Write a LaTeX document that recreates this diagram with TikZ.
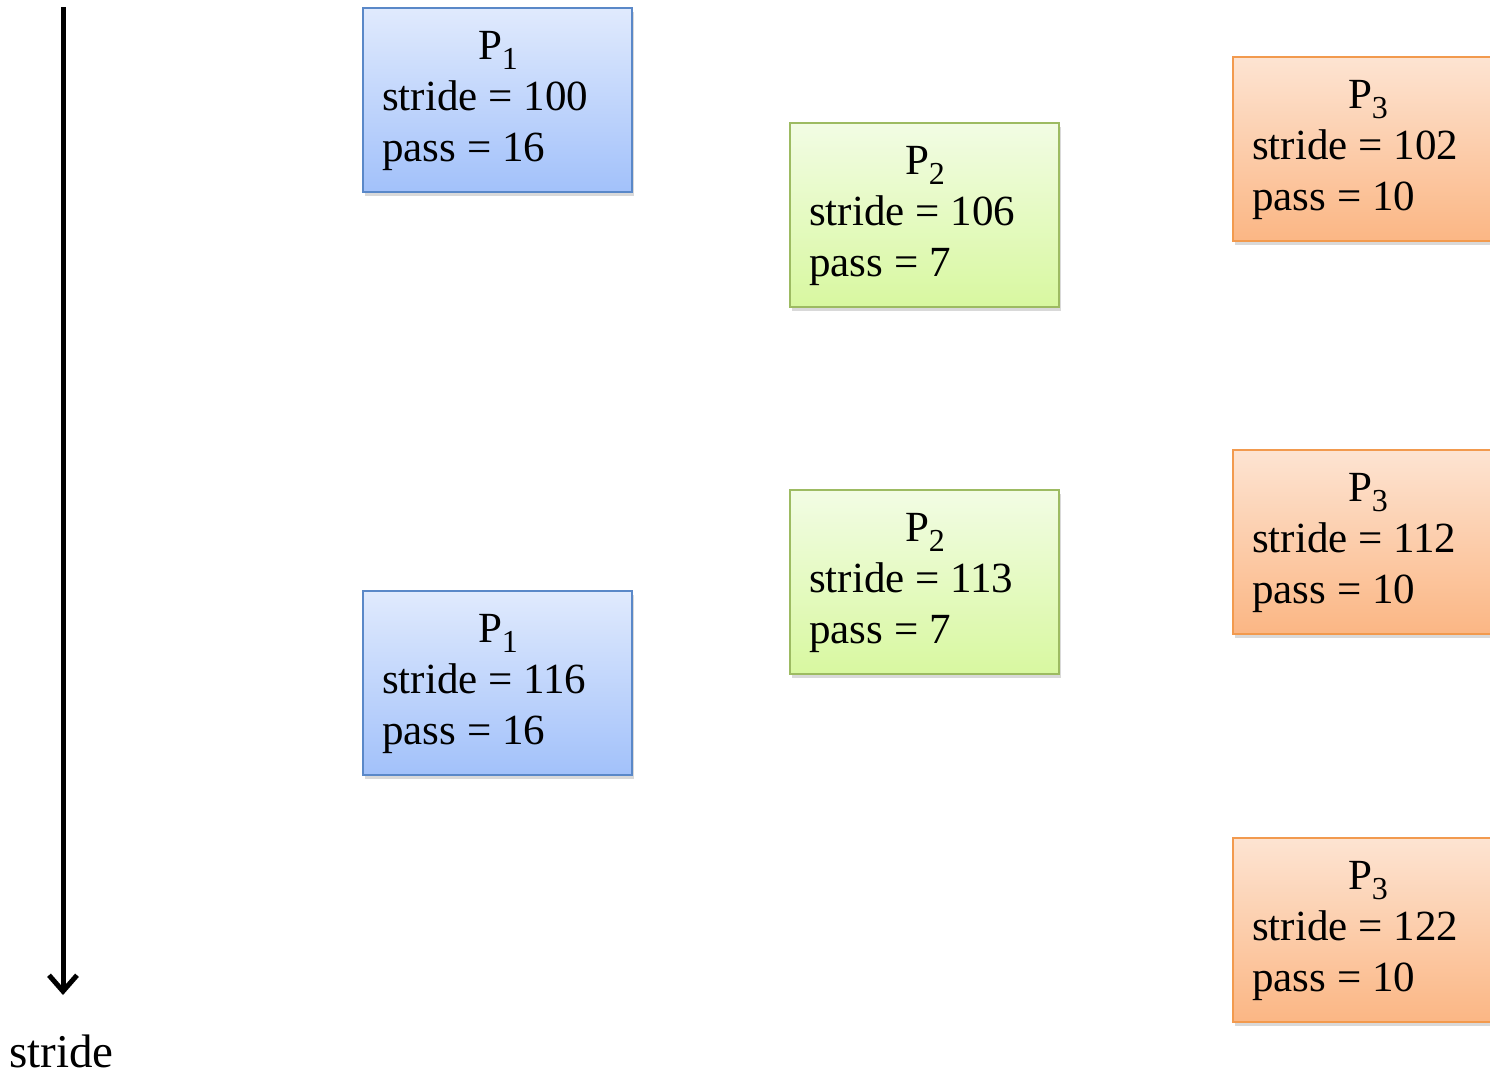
\documentclass[tikz,border=0pt]{standalone}
\usepackage{fontspec}
\setmainfont{Liberation Serif}
\usetikzlibrary{arrows.meta,shadows,calc}

\definecolor{blueTop}{HTML}{E0EAFD}
\definecolor{blueBot}{HTML}{A2C1FA}
\definecolor{blueLine}{HTML}{5A88C8}
\definecolor{greenTop}{HTML}{F2FCE4}
\definecolor{greenBot}{HTML}{D8F8A0}
\definecolor{greenLine}{HTML}{9DBB62}
\definecolor{orangeTop}{HTML}{FDE4D2}
\definecolor{orangeBot}{HTML}{FBB684}
\definecolor{orangeLine}{HTML}{F29A4E}

\tikzset{
  procbase/.style={rectangle, minimum width=269pt, minimum height=184pt,
    line width=2pt, inner sep=0pt,
    drop shadow={opacity=0.3, shadow xshift=2pt, shadow yshift=-4pt}},
  pblue/.style={procbase, draw=blueLine, top color=blueTop, bottom color=blueBot},
  pgreen/.style={procbase, draw=greenLine, top color=greenTop, bottom color=greenBot},
  porange/.style={procbase, draw=orangeLine, top color=orangeTop, bottom color=orangeBot},
  lbl/.style={inner sep=0pt, font=\fontsize{43}{52}\selectfont},
}

% one process box: name, left x, top y, style, index, stride, pass
\newcommand\procbox[7]{%
  \node[#4, anchor=north west] (#1) at (#2,#3) {};
  \node[lbl, anchor=base] (#1-name) at ($(#1.north west)+(136,52)$)
    {P\raisebox{-10pt}{\fontsize{32}{32}\selectfont #5}};
  \node[lbl, anchor=base west] (#1-stride) at ($(#1.north west)+(20,103)$)
    {stride = #6};
  \node[lbl, anchor=base west] (#1-pass) at ($(#1.north west)+(20,154)$)
    {pass = #7};
}

\begin{document}
\begin{tikzpicture}[x=1pt, y=-1pt]
  \useasboundingbox (0,0) rectangle (1490,1077);

  % time axis
  \coordinate (axisTop) at (63,7);
  \coordinate (axisEnd) at (63,995);
  \draw[line width=5pt, -{Straight Barb[length=16pt,width=28pt,line width=5pt]}]
    (axisTop) -- (axisEnd);
  \node[lbl, font=\fontsize{47}{52}\selectfont, anchor=base west] (axisLabel)
    at (9,1067) {stride};

  % process boxes
  \procbox{p1a}{362}{7}{pblue}{1}{100}{16}
  \procbox{p2a}{789}{122}{pgreen}{2}{106}{7}
  \procbox{p3a}{1232}{56}{porange}{3}{102}{10}
  \procbox{p3b}{1232}{449}{porange}{3}{112}{10}
  \procbox{p2b}{789}{489}{pgreen}{2}{113}{7}
  \procbox{p1b}{362}{590}{pblue}{1}{116}{16}
  \procbox{p3c}{1232}{837}{porange}{3}{122}{10}
\end{tikzpicture}
\end{document}
